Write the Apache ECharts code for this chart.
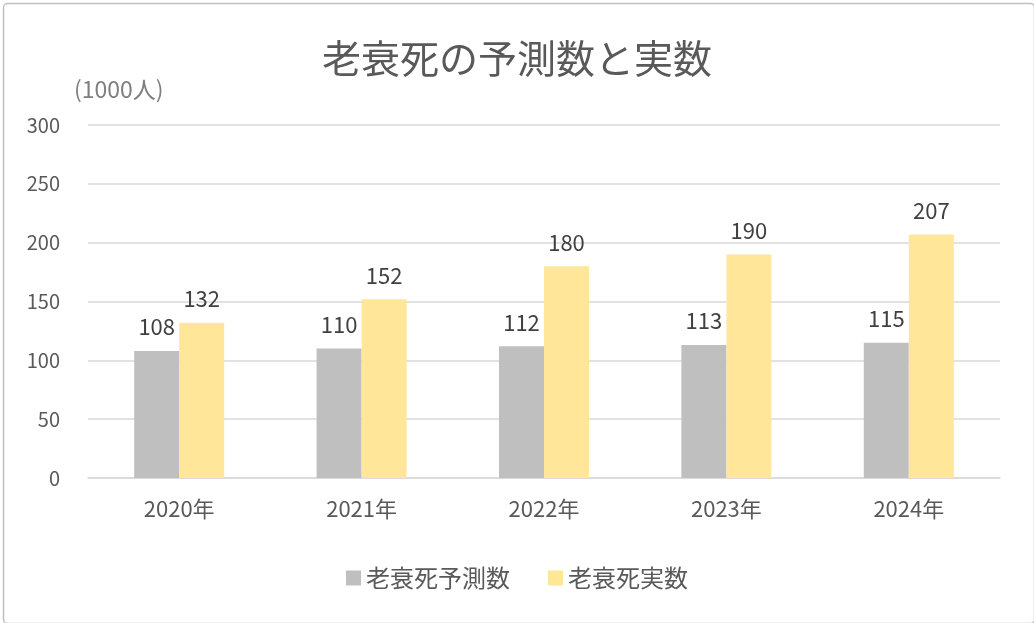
<!DOCTYPE html>
<html><head><meta charset="utf-8">
<script src="https://cdn.jsdelivr.net/npm/echarts@6/dist/echarts.min.js"></script>
<style>html,body{margin:0;padding:0;background:#fff}#c{width:1034px;height:623px}</style>
</head><body><div id="c"></div>
<script>
const categories = ['2020年','2021年','2022年','2023年','2024年'];
const predicted = [108,110,112,113,115];
const actual = [132,152,180,190,207];
const seriesNames = ['老衰死予測数','老衰死実数'];
const yTicks = {min:0, max:300, interval:50};
const font = "'Noto Sans CJK JP', 'Noto Sans', sans-serif";
const chart = echarts.init(document.getElementById('c'));
chart.setOption({
  animation:false,
  textStyle:{fontFamily:font},
  graphic:[{type:'rect',left:1,top:1,shape:{width:1031,height:620,r:4},style:{fill:'none',stroke:'#bfbfbf',lineWidth:1.5},silent:true}],
  title:{text:'老衰死の予測数と実数',left:'center',top:34,textStyle:{fontSize:39,fontWeight:'normal',color:'#595959',fontFamily:font}},
  legend:{data:seriesNames,bottom:28,left:'center',itemWidth:15,itemHeight:15,itemGap:38,icon:'rect',textStyle:{fontSize:24,color:'#595959',fontFamily:font}},
  grid:{left:88,right:34,top:125,bottom:145,containLabel:false},
  xAxis:{type:'category',data:categories,axisLine:{lineStyle:{color:'#d9d9d9',width:1.5}},axisTick:{show:false},axisLabel:{fontSize:22,color:'#595959',margin:20,fontFamily:font}},
  yAxis:{type:'value',min:yTicks.min,max:yTicks.max,interval:yTicks.interval,name:'(1000人)',nameLocation:'end',nameGap:24,nameTextStyle:{fontSize:23,color:'#7f7f7f',align:'left',padding:[0,0,0,-14],fontFamily:font},axisLine:{show:false},axisTick:{show:false},splitLine:{lineStyle:{color:'#d9d9d9',width:1.5}},axisLabel:{fontSize:20,color:'#595959',margin:28,fontFamily:font}},
  series:[
    {name:seriesNames[0],type:'bar',data:predicted,barWidth:45,barGap:'0%',itemStyle:{color:'#bfbfbf'},label:{show:true,position:'top',distance:13,fontSize:22,color:'#404040',fontFamily:font}},
    {name:seriesNames[1],type:'bar',data:actual,barWidth:45,itemStyle:{color:'#ffe699'},label:{show:true,position:'top',distance:13,fontSize:22,color:'#404040',fontFamily:font}}
  ]
});
</script></body></html>
